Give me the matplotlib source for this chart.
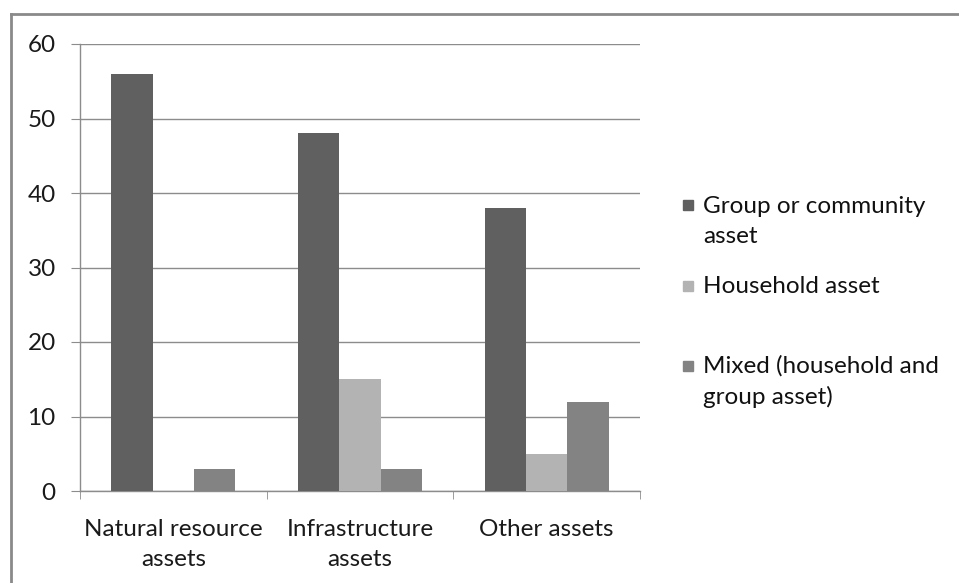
import numpy as np
import matplotlib
matplotlib.use("Agg")
import matplotlib.pyplot as plt
from matplotlib.lines import Line2D
from matplotlib.patches import Rectangle

# asset categories and counts per ownership type
categories = ["Natural resource\nassets", "Infrastructure\nassets", "Other assets"]
series_names = ["Group or community\nasset", "Household asset", "Mixed (household and\ngroup asset)"]
group_vals = [56, 48, 38]
household_vals = [0, 15, 5]
mixed_vals = [3, 3, 12]
colors = ["#606060", "#b3b3b3", "#838383"]
yticks = [0, 10, 20, 30, 40, 50, 60]

plt.rcParams['font.family'] = ['Lato', 'DejaVu Sans']
grid_col = "#8c8c8c"
fs = 17.5

W, H = 959, 583
fig = plt.figure(figsize=(W / 100, H / 100), dpi=100)
ax = fig.add_axes([80 / W, 1 - 491 / H, 560 / W, 447 / H])

x = np.arange(len(categories))
bw = 0.222
for k, vals in enumerate([group_vals, household_vals, mixed_vals]):
    ax.bar(x + (k - 1) * bw, vals, width=bw, color=colors[k], zorder=3)

ax.set_xlim(-0.5, 2.5)
ax.set_ylim(0, 60)
ax.set_yticks(yticks)
ax.set_yticklabels([str(v) for v in yticks], fontsize=fs, color="#1a1a1a")
ax.yaxis.grid(True, color=grid_col, linewidth=1, zorder=0)
ax.tick_params(axis="y", length=6.5, color=grid_col, pad=11)

# category labels in the middle, tick marks on the boundaries
ax.set_xticks(x)
ax.set_xticklabels(categories, fontsize=fs, color="#1a1a1a", linespacing=1.56)
ax.tick_params(axis="x", which="major", length=0, pad=20)
ax.set_xticks([-0.5, 0.5, 1.5, 2.5], minor=True)
ax.tick_params(axis="x", which="minor", length=6, color=grid_col)

for s in ["top", "right"]:
    ax.spines[s].set_visible(False)
for s in ["left", "bottom"]:
    ax.spines[s].set_color(grid_col)
    ax.spines[s].set_linewidth(1)

# legend drawn by hand so the swatch sits on the first text line
# (baseline alignment puts the last line on yb, so shift by the extra lines)
leg_base = [212, 293, 373]
line_h = 31
for k, name in enumerate(series_names):
    yb = leg_base[k]
    fig.patches.append(Rectangle((683 / W, 1 - (yb - 2) / H), 10 / W, 10 / H,
                                 transform=fig.transFigure, color=colors[k]))
    y_last = yb + line_h * name.count("\n")
    fig.text(703 / W, 1 - y_last / H, name, fontsize=fs, va="baseline", ha="left",
             color="#111111", linespacing=1.51)

# outer chart frame (top and left edges only show)
fig.add_artist(Line2D([11 / W, 11 / W], [0, 1 - 14 / H], transform=fig.transFigure,
                      color="#8a8a8a", linewidth=2))
fig.add_artist(Line2D([11 / W, 1], [1 - 14 / H, 1 - 14 / H], transform=fig.transFigure,
                      color="#8a8a8a", linewidth=2))

fig.savefig("out.png", dpi=100)
